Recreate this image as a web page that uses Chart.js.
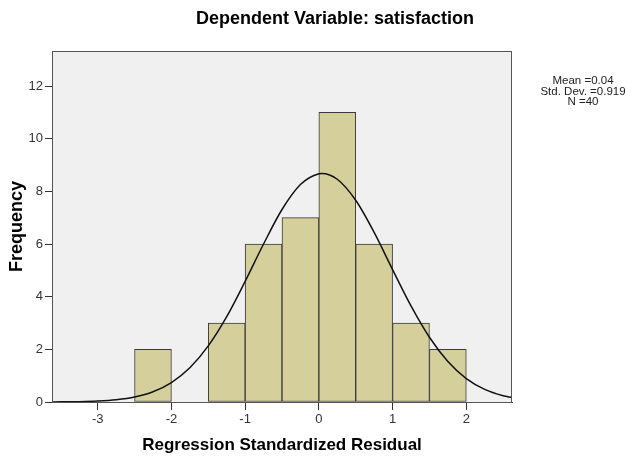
<!DOCTYPE html>
<html>
<head>
<meta charset="utf-8">
<script src="https://cdn.jsdelivr.net/npm/chart.js@4"></script>
<style>
  body { margin: 0; background: #fff; }
  #wrap { width: 639px; height: 456px; }
</style>
</head>
<body>
<div id="wrap"><canvas id="grafico" width="639" height="456"></canvas></div>
<script>
// Centros das classes do histograma (largura 0.5) e frequências
const binCenters = [-2.25, -1.75, -1.25, -0.75, -0.25, 0.25, 0.75, 1.25, 1.75];
const frequencias = [2, 0, 3, 6, 7, 11, 6, 3, 2];

// Curva normal
const curvaX = [-3.62, -3.5, -3.25, -3, -2.75, -2.5, -2.25, -2, -1.75, -1.5, -1.25, -1, -0.75, -0.5, -0.25, 0, 0.04, 0.25, 0.5, 0.75, 1, 1.25, 1.5, 1.75, 2, 2.25, 2.5, 2.62];
const curvaY = [0.003, 0.005, 0.014, 0.037, 0.087, 0.19, 0.39, 0.74, 1.30, 2.13, 3.24, 4.58, 6.00, 7.31, 8.26, 8.67, 8.68, 8.46, 7.66, 6.44, 5.03, 3.65, 2.46, 1.54, 0.89, 0.48, 0.24, 0.17];

const xTicks = [-3, -2, -1, 0, 1, 2];
const yTicks = [0, 2, 4, 6, 8, 10, 12];

const titulo = 'Dependent Variable: satisfaction';
const estatisticas = ['Mean =0.04', 'Std. Dev. =0.919', 'N =40'];

const fonte = '"Liberation Sans", Arial, sans-serif';

// Fundo cinza e moldura da área do gráfico, mais os textos soltos
const moldura = {
  id: 'moldura',
  beforeDraw(chart) {
    const { ctx, chartArea: a } = chart;
    ctx.save();
    ctx.fillStyle = '#f0f0f0';
    ctx.fillRect(a.left, a.top, a.right - a.left, a.bottom - a.top);
    ctx.restore();
  },
  afterDraw(chart) {
    const { ctx, chartArea: a } = chart;
    ctx.save();
    ctx.strokeStyle = '#555';
    ctx.lineWidth = 1;
    ctx.strokeRect(a.left + 0.5, a.top + 0.5, a.right - a.left - 1, a.bottom - a.top);
    ctx.fillStyle = '#000';
    ctx.textAlign = 'center';
    ctx.textBaseline = 'middle';
    ctx.font = 'bold 18px ' + fonte;
    ctx.fillText(titulo, 335, 19);
    ctx.font = '11.5px ' + fonte;
    ctx.fillStyle = '#222';
    estatisticas.forEach((t, i) => ctx.fillText(t, 583, 81 + i * 10.5));
    ctx.restore();
  }
};

const ctx = document.getElementById('grafico').getContext('2d');
new Chart(ctx, {
  data: {
    datasets: [
      {
        type: 'line',
        data: curvaX.map((x, i) => ({ x: x, y: curvaY[i] })),
        borderColor: '#111',
        borderWidth: 1.5,
        pointRadius: 0,
        cubicInterpolationMode: 'monotone',
        fill: false,
        order: 0
      },
      {
        type: 'bar',
        data: binCenters.map((x, i) => ({ x: x, y: frequencias[i] })),
        backgroundColor: '#d4cf9b',
        borderColor: '#3a3a3a',
        borderWidth: 1,
        borderSkipped: false,
        barPercentage: 1,
        categoryPercentage: 1,
        order: 1
      }
    ]
  },
  options: {
    responsive: false,
    animation: false,
    layout: { padding: { top: 51, right: 127, bottom: 0, left: 0 } },
    plugins: { legend: { display: false }, tooltip: { enabled: false } },
    scales: {
      x: {
        type: 'linear',
        min: -3.62,
        max: 2.62,
        offset: false,
        afterFit: (s) => { s.height = 54; },
        afterBuildTicks: (s) => { s.ticks = xTicks.map((v) => ({ value: v })); },
        grid: { offset: false, drawOnChartArea: false, drawTicks: true, tickLength: 8, color: '#333' },
        border: { display: true, color: '#333', width: 1 },
        ticks: { color: '#333', font: { family: fonte, size: 13 }, padding: 2 },
        title: {
          display: true,
          text: 'Regression Standardized Residual',
          color: '#000',
          font: { family: fonte, size: 17, weight: 'bold' },
          padding: { top: 0, bottom: 0 }
        }
      },
      y: {
        type: 'linear',
        min: 0,
        max: 13.33,
        afterFit: (s) => { s.width = 52; },
        afterBuildTicks: (s) => { s.ticks = yTicks.map((v) => ({ value: v })); },
        grid: { drawOnChartArea: false, drawTicks: true, tickLength: 7, color: '#333' },
        border: { display: true, color: '#333', width: 1 },
        ticks: { color: '#333', font: { family: fonte, size: 13 }, padding: 2 },
        title: {
          display: true,
          text: 'Frequency',
          color: '#000',
          font: { family: fonte, size: 18, weight: 'bold' },
          padding: { top: 6, bottom: 0 }
        }
      }
    }
  },
  plugins: [moldura]
});
</script>
</body>
</html>
